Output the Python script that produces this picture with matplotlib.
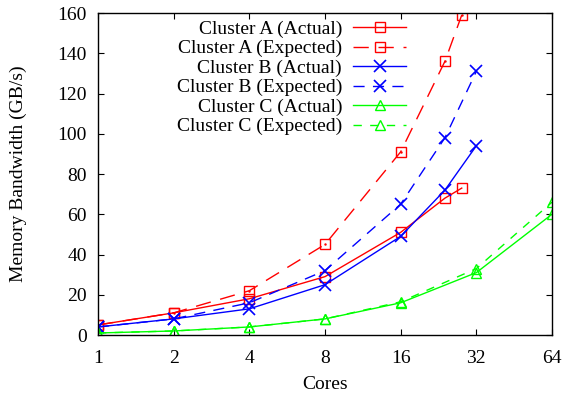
import matplotlib
matplotlib.use('Agg')
import matplotlib.pyplot as plt
from matplotlib.ticker import FixedLocator, FixedFormatter, NullLocator

plt.rcParams['font.family'] = ['Liberation Serif', 'DejaVu Serif']
plt.rcParams['font.size'] = 14

# data
cores_a = [1, 2, 4, 8, 16, 24, 28]
a_actual = [5, 11, 18, 29, 51, 68, 73]
a_expected = [5, 11, 22, 45, 91, 136, 159]

cores_b = [1, 2, 4, 8, 16, 24, 32]
b_actual = [4, 8, 13, 25, 49, 72, 94]
b_expected = [4, 8, 16, 32, 65, 98, 131]

cores_c = [1, 2, 4, 8, 16, 32, 64]
c_actual = [1, 2, 4, 8, 16, 31, 60]
c_expected = [1, 2, 4, 8, 16.5, 33, 66]

labels = ['Cluster A (Actual)', 'Cluster A (Expected)',
          'Cluster B (Actual)', 'Cluster B (Expected)',
          'Cluster C (Actual)', 'Cluster C (Expected)']

xticks = [1, 2, 4, 8, 16, 32, 64]
yticks = list(range(0, 161, 20))

red = '#ff0000'
blue = '#0000ff'
green = '#00ff00'

W, H = 564, 398
fig = plt.figure(figsize=(W / 100, H / 100), dpi=100)
ax = fig.add_axes([98 / W, 1 - 335 / H, 454 / W, 322 / H])

ms = 7
handles = []
handles += ax.plot(cores_a, a_actual, color=red, lw=1, marker='s', ms=ms, mfc='none', mew=1)
handles += ax.plot(cores_a, a_expected, color=red, lw=1, dashes=(11, 7), marker='s', ms=ms,
                   mfc='none', mew=1)
ax.plot(cores_a, a_expected, color=red, lw=0, marker='.', ms=1.5)
handles += ax.plot(cores_b, b_actual, color=blue, lw=1, marker='x', ms=ms + 1.5, mew=1.2)
handles += ax.plot(cores_b, b_expected, color=blue, lw=1, dashes=(8, 6), marker='x',
                   ms=ms + 1.5, mew=1.2)
handles += ax.plot(cores_c, c_actual, color=green, lw=1, marker='^', ms=ms, mfc='none', mew=1)
handles += ax.plot(cores_c, c_expected, color=green, lw=1, dashes=(6, 6), marker='^', ms=ms,
                   mfc='none', mew=1)

ax.set_xscale('log', base=2)
ax.set_xlim(1, 64)
ax.set_ylim(0, 160)
ax.xaxis.set_major_locator(FixedLocator(xticks))
ax.xaxis.set_major_formatter(FixedFormatter([str(v) for v in xticks]))
ax.xaxis.set_minor_locator(NullLocator())
ax.set_yticks(yticks)
ax.tick_params(direction='in', length=4.5, width=0.8, top=True, right=True, labelsize=14)
ax.tick_params(axis='x', pad=11)
ax.tick_params(axis='y', pad=8)
for s in ax.spines.values():
    s.set_linewidth(1)

ax.set_xlabel('Cores', fontsize=14, labelpad=6)
ax.set_ylabel('Memory Bandwidth (GB/s)', fontsize=14, labelpad=22)

# gnuplot-style key: sample on the right, text right-aligned to its left
leg = ax.legend(handles, [''] * len(handles), loc='upper left',
                bbox_to_anchor=(353 / W, 1 - 21.7 / H), bbox_transform=fig.transFigure,
                frameon=False, fontsize=11, handlelength=3.5, handletextpad=0,
                labelspacing=0.38, borderpad=0, borderaxespad=0)
fig.canvas.draw()
renderer = fig.canvas.get_renderer()
for h, lab in zip(leg.legend_handles, labels):
    bb = h.get_window_extent(renderer)
    yc = (bb.y0 + bb.y1) / 2
    fig.text(342 / W, yc / H, lab, ha='right', va='center_baseline', fontsize=14)

fig.savefig('out.png', dpi=100)
